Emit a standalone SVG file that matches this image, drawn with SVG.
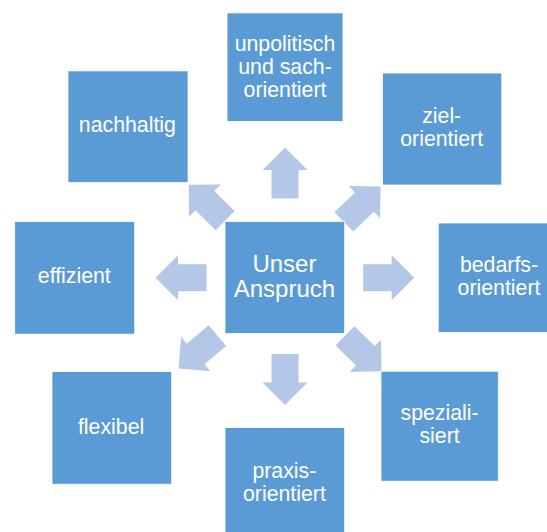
<svg xmlns="http://www.w3.org/2000/svg" width="547" height="532" viewBox="0 0 547 532">
<style>
.box{fill:#5B9BD5;stroke:#FFFFFF;stroke-width:0.8}
.t{font-family:"Liberation Sans",Arial,sans-serif;font-size:21.3px;fill:#FFFFFF;text-anchor:middle}
.tc{font-size:24px}
.arr{fill:#B4C7E7}
</style>
<defs>
<path id="a" d="M0,-13.5 H28.5 V-22.5 L51,0 L28.5,22.5 V13.5 H0 Z"/>
</defs>
<rect width="547" height="532" fill="#FFFFFF"/>
<g id="connectors" class="arr">
<use href="#a" transform="translate(285,198.5) rotate(-90)"/>
<use href="#a" transform="translate(363.2,277.7)"/>
<use href="#a" transform="translate(206.6,277.7) rotate(180)"/>
<use href="#a" transform="translate(285,354) rotate(90)"/>
<use href="#a" transform="translate(343.9,221.9) rotate(-44)"/>
<use href="#a" transform="translate(225.2,220.6) rotate(-135.5)"/>
<use href="#a" transform="translate(344.9,335.9) rotate(44)"/>
<use href="#a" transform="translate(217.4,335.6) rotate(139.7)"/>
</g>
<g id="center"><rect class="box" x="225" y="221.6" width="119.7" height="112"/>
<text class="t tc" x="284.4"><tspan x="284.4" y="271.5">Unser</tspan><tspan x="284.4" y="296.5">Anspruch</tspan></text></g>
<g id="top"><rect class="box" x="227" y="12.9" width="116" height="108.6"/>
<text class="t" x="285"><tspan x="285" y="50.9">unpolitisch</tspan><tspan x="285" y="74">und sach-</tspan><tspan x="285" y="97.4">orientiert</tspan></text></g>
<g id="nachhaltig"><rect class="box" x="68" y="70.9" width="120" height="111.7"/>
<text class="t" x="127.4" y="131.7">nachhaltig</text></g>
<g id="ziel"><rect class="box" x="382.4" y="73" width="119.4" height="112"/>
<text class="t" x="441.7"><tspan x="441.7" y="123.4">ziel-</tspan><tspan x="441.7" y="146.4">orientiert</tspan></text></g>
<g id="effizient"><rect class="box" x="14.7" y="221.6" width="120" height="112.6"/>
<text class="t" x="74.3" y="282.7">effizient</text></g>
<g id="bedarfs"><rect class="box" x="438.2" y="223" width="120" height="109.5"/>
<text class="t" x="499"><tspan x="499" y="271.5">bedarfs-</tspan><tspan x="499" y="294.5">orientiert</tspan></text></g>
<g id="flexibel"><rect class="box" x="52" y="371.6" width="119.7" height="112.6"/>
<text class="t" x="111.1" y="434.3">flexibel</text></g>
<g id="speziali"><rect class="box" x="381" y="371.2" width="117.3" height="110"/>
<text class="t" x="439.6"><tspan x="439.6" y="420.3">speziali-</tspan><tspan x="439.6" y="443.3">siert</tspan></text></g>
<g id="praxis"><rect class="box" x="225" y="427.6" width="119.7" height="110"/>
<text class="t" x="284.4"><tspan x="284.4" y="477.5">praxis-</tspan><tspan x="284.4" y="500.5">orientiert</tspan></text></g>
</svg>
